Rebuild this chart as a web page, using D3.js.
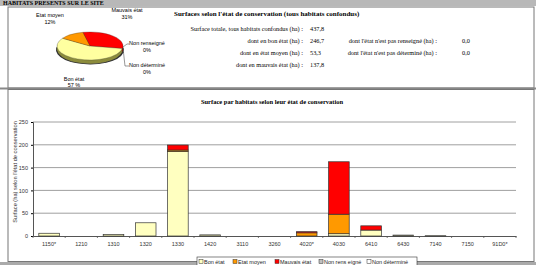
<!DOCTYPE html>
<html>
<head>
<meta charset="utf-8">
<script src="https://cdn.jsdelivr.net/npm/d3@7"></script>
<style>
  body { margin: 0; background: #fff; }
  svg { display: block; }
</style>
</head>
<body>
<div id="chart"></div>
<script>
// Data
const habitats = ["1150*", "1210", "1310", "1320", "1330", "1420", "3110", "3260", "4020*", "4030", "6410", "6430", "7140", "7150", "91D0*"];
const bonEtat      = [6, 0, 3.5, 29, 185, 2.5, 0, 0, 0, 5, 13, 2, 0.7, 0, 0];
const etatMoyen    = [0, 0, 0, 0, 3.5, 0, 0, 0, 7, 42.8, 0, 0, 0, 0, 0];
const mauvaisEtat  = [0, 0, 0, 0, 11, 0, 0, 0, 2.5, 115, 9.3, 0, 0, 0, 0];
const nonRenseigne = [0, 0, 0, 0, 0, 0, 0, 0, 0, 0, 0, 0, 0, 0, 0];
const nonDetermine = [0, 0, 0, 0, 0, 0, 0, 0, 0, 0, 0, 0, 0, 0, 0];

const seriesNames = ["Bon état", "Etat moyen", "Mauvais état", "Non rens eigné", "Non déterminé"];
const seriesColors = ["#ffffc0", "#ff9900", "#ff0000", "#c0c0c0", "#ffffff"];

const pieLabels = ["Mauvais état", "Bon état", "Etat moyen"];
const pieValues = [137.8, 246.7, 53.3];
const piePct = ["31%", "57 %", "12%"];
const yTicks = [0, 50, 100, 150, 200, 250];

const w = 536, h = 265;
const serif = "'Liberation Serif', 'DejaVu Serif', serif";
const sans = "'Liberation Sans', Arial, sans-serif";

let svg = d3.select("#chart").append("svg")
  .attr("width", w)
  .attr("height", h);

// header band
svg.append("rect").attr("x", 0).attr("y", 0).attr("width", w).attr("height", 6).attr("fill", "#b8b8b8");
svg.append("text").attr("x", 3).attr("y", 5)
  .attr("font-family", serif).attr("font-weight", "bold").attr("font-size", 6)
  .text("HABITATS PRESENTS SUR LE SITE");

// panels
svg.append("rect").attr("x", 8).attr("y", 7).attr("width", 526).attr("height", 81)
  .attr("fill", "none").attr("stroke", "#777").attr("stroke-width", 1);
svg.append("line").attr("x1", 0).attr("x2", w).attr("y1", 88.5).attr("y2", 88.5)
  .attr("stroke", "#888").attr("stroke-width", 2);
svg.append("rect").attr("x", 8).attr("y", 89.5).attr("width", 526).attr("height", 172)
  .attr("fill", "none").attr("stroke", "#777").attr("stroke-width", 1);
svg.append("rect").attr("x", 0).attr("y", 262).attr("width", w).attr("height", 3).attr("fill", "#aaa");

// ---- pie (3D-ish) ----
const cx = 90, cy = 46, rx = 33, ry = 14, depth = 4;
const a0 = -0.22;
const pie = d3.pie().sort(null).startAngle(a0).endAngle(a0 + 2 * Math.PI);
const arcs = pie(pieValues);
const arc = d3.arc().innerRadius(0).outerRadius(rx);
const pieColors = ["#ff0000", "#ffffa0", "#ff9900"];
const darkColors = ["#990000", "#8c8c3c", "#995c00"];

let pieG = svg.append("g");
for (let d = depth; d >= 1; d--) {
  pieG.append("g")
    .attr("transform", `translate(${cx},${cy + d}) scale(1,${ry / rx})`)
    .selectAll("path").data(arcs).join("path")
    .attr("d", arc)
    .attr("fill", (a, i) => darkColors[i])
    .attr("stroke", d === depth ? "#333" : "none")
    .attr("stroke-width", 0.8 * rx / ry);
}
pieG.append("g")
  .attr("transform", `translate(${cx},${cy}) scale(1,${ry / rx})`)
  .selectAll("path").data(arcs).join("path")
  .attr("d", arc)
  .attr("fill", (a, i) => pieColors[i])
  .attr("stroke", "#333")
  .attr("stroke-width", 0.4);

const pieText = [
  { x: 50, y: 17, t: "Etat moyen" }, { x: 50, y: 24, t: piePct[2] },
  { x: 127, y: 12, t: "Mauvais état" }, { x: 127, y: 19, t: piePct[0] },
  { x: 147, y: 45, t: "Non renseigné" }, { x: 147, y: 52, t: "0%" },
  { x: 147, y: 67, t: "Non déterminé" }, { x: 147, y: 74, t: "0%" },
  { x: 74, y: 81, t: "Bon état" }, { x: 74, y: 87, t: piePct[1] }
];
svg.append("g").selectAll("text").data(pieText).join("text")
  .attr("x", d => d.x).attr("y", d => d.y)
  .attr("text-anchor", "middle")
  .attr("font-family", sans).attr("font-size", 5.5)
  .text(d => d.t);
svg.append("path").attr("d", "M123,47 L127,44 L129,44").attr("fill", "none").attr("stroke", "#333").attr("stroke-width", 0.5);
svg.append("path").attr("d", "M123,48 L125,66 L129,66").attr("fill", "none").attr("stroke", "#333").attr("stroke-width", 0.5);

// ---- summary text ----
svg.append("text").attr("x", 174).attr("y", 16)
  .attr("font-family", serif).attr("font-weight", "bold").attr("font-size", 7)
  .text("Surfaces selon l'état de conservation (tous habitats confondus)");

const sumLabels = ["Surface totale, tous habitats confondus (ha) :", "dont en bon état (ha) :", "dont en état moyen (ha) :", "dont en mauvais état (ha) :"];
const sumValues = ["437,8", "246,7", "53,3", "137,8"];
const sumY = [31, 43, 55, 67];
const sideLabels = ["dont l'état n'est pas renseigné (ha) :", "dont l'état n'est pas déterminé (ha) :"];
const sideValues = ["0,0", "0,0"];

sumLabels.forEach((t, i) => {
  svg.append("text").attr("x", 303).attr("y", sumY[i]).attr("text-anchor", "end")
    .attr("font-family", serif).attr("font-size", 6.3).text(t);
  svg.append("text").attr("x", 310).attr("y", sumY[i])
    .attr("font-family", serif).attr("font-size", 6.3).text(sumValues[i]);
});
sideLabels.forEach((t, i) => {
  svg.append("text").attr("x", 437).attr("y", sumY[i + 1]).attr("text-anchor", "end")
    .attr("font-family", serif).attr("font-size", 6.3).text(t);
  svg.append("text").attr("x", 462).attr("y", sumY[i + 1])
    .attr("font-family", serif).attr("font-size", 6.3).text(sideValues[i]);
});

// ---- stacked bar chart ----
const m = { left: 33, right: 516, top: 122, bottom: 236 };
const x = d3.scaleBand().domain(habitats).range([m.left, m.right]).paddingInner(0.36).paddingOuter(0.18);
const y = d3.scaleLinear().domain([0, 250]).range([m.bottom, m.top]);

svg.append("text").attr("x", 272).attr("y", 104).attr("text-anchor", "middle")
  .attr("font-family", serif).attr("font-weight", "bold").attr("font-size", 6.5)
  .text("Surface par habitats selon leur état de conservation");

// gridlines
svg.append("g").selectAll("line").data(yTicks.slice(1)).join("line")
  .attr("x1", m.left).attr("x2", m.right)
  .attr("y1", d => y(d)).attr("y2", d => y(d))
  .attr("stroke", "#888").attr("stroke-width", 0.8);

// y axis
let yAxis = svg.append("g").attr("transform", `translate(${m.left},0)`)
  .call(d3.axisLeft(y).tickValues(yTicks).tickSize(2).tickPadding(3));
yAxis.select(".domain").attr("stroke", "#555");
yAxis.selectAll("text").attr("font-family", sans).attr("font-size", 5.5).attr("fill", "#333");

svg.append("text")
  .attr("transform", `translate(17,172) rotate(-90)`)
  .attr("text-anchor", "middle")
  .attr("font-family", sans).attr("font-size", 5.7).attr("fill", "#333")
  .text("Surface (ha) selon l'état de conservation");

// x axis
const xLin = d3.scaleLinear().domain([0, habitats.length]).range([m.left, m.right]);
let xAxis = svg.append("g").attr("transform", `translate(0,${m.bottom})`)
  .call(d3.axisBottom(x).tickSize(0).tickPadding(6));
xAxis.select(".domain").attr("stroke", "#555");
xAxis.selectAll("text").attr("font-family", sans).attr("font-size", 5.5).attr("fill", "#333");
svg.append("g").selectAll("line").data(d3.range(habitats.length + 1)).join("line")
  .attr("x1", d => xLin(d)).attr("x2", d => xLin(d))
  .attr("y1", m.bottom).attr("y2", m.bottom + 2)
  .attr("stroke", "#555").attr("stroke-width", 0.8);

// stack
const rows = habitats.map((hab, i) => ({
  hab: hab, s0: bonEtat[i], s1: etatMoyen[i], s2: mauvaisEtat[i], s3: nonRenseigne[i], s4: nonDetermine[i]
}));
const stack = d3.stack().keys(["s0", "s1", "s2", "s3", "s4"])(rows);

svg.append("g").selectAll("g").data(stack).join("g")
  .attr("fill", (d, i) => seriesColors[i])
  .selectAll("rect").data(d => d.filter(p => p[1] - p[0] > 0)).join("rect")
  .attr("x", d => x(d.data.hab))
  .attr("width", x.bandwidth())
  .attr("y", d => y(d[1]))
  .attr("height", d => y(d[0]) - y(d[1]))
  .attr("stroke", "#333").attr("stroke-width", 0.7);

// legend
const lx = 197, ly = 257;
const legW = [29, 37, 39, 43, 41];
svg.append("rect").attr("x", lx).attr("y", ly).attr("width", 220).attr("height", 10)
  .attr("fill", "#fff").attr("stroke", "#333").attr("stroke-width", 0.6);
let off = lx + 2;
seriesNames.forEach((n, i) => {
  svg.append("rect").attr("x", off).attr("y", ly + 2.5).attr("width", 4).attr("height", 4)
    .attr("fill", seriesColors[i]).attr("stroke", "#333").attr("stroke-width", 0.5);
  svg.append("text").attr("x", off + 5).attr("y", ly + 6.5)
    .attr("font-family", sans).attr("font-size", 5.5).attr("fill", "#222").text(n);
  off += legW[i] + 5;
});
</script>
</body>
</html>
